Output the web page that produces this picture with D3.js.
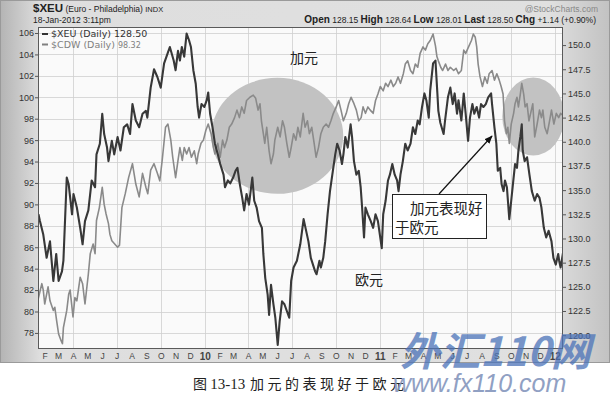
<!DOCTYPE html>
<html><head><meta charset="utf-8">
<script src="https://cdn.jsdelivr.net/npm/d3@7"></script>
<style>body{margin:0;background:#fff}svg{display:block}</style>
</head><body>
<svg id="c" width="610" height="401"></svg>
<script>
// ---- data ----
const xeu = [["2009-01-19",132.5],["2009-01-22",131.8],["2009-01-29",130.4],["2009-02-05",128.0],["2009-02-12",129.7],["2009-02-19",125.6],["2009-02-25",128.4],["2009-03-02",125.6],["2009-03-09",126.6],["2009-03-12",127.7],["2009-03-19",136.3],["2009-03-23",135.6],["2009-03-30",132.5],["2009-04-02",134.6],["2009-04-09",133.2],["2009-04-16",131.1],["2009-04-21",129.4],["2009-04-26",131.8],["2009-05-03",132.9],["2009-05-10",136.0],["2009-05-17",135.3],["2009-05-20",138.7],["2009-05-27",139.8],["2009-06-01",142.9],["2009-06-05",140.8],["2009-06-11",139.4],["2009-06-14",138.0],["2009-06-21",140.1],["2009-06-26",138.7],["2009-07-03",140.5],["2009-07-09",139.1],["2009-07-16",141.5],["2009-07-23",141.8],["2009-07-29",140.8],["2009-08-03",143.9],["2009-08-10",142.2],["2009-08-17",141.5],["2009-08-24",142.9],["2009-08-31",143.2],["2009-09-03",142.5],["2009-09-10",145.6],["2009-09-17",147.5],["2009-09-24",146.7],["2009-10-01",145.6],["2009-10-08",148.1],["2009-10-15",149.1],["2009-10-20",149.8],["2009-10-28",148.4],["2009-11-01",147.4],["2009-11-06",149.4],["2009-11-10",148.4],["2009-11-14",149.8],["2009-11-19",148.8],["2009-11-24",151.2],["2009-11-29",150.5],["2009-12-03",149.8],["2009-12-08",147.4],["2009-12-13",146.0],["2009-12-17",143.6],["2009-12-20",142.5],["2009-12-25",143.9],["2009-12-31",143.6],["2010-01-05",144.3],["2010-01-08",145.1],["2010-01-12",142.9],["2010-01-17",141.5],["2010-01-22",139.8],["2010-01-28",138.7],["2010-02-02",137.7],["2010-02-09",136.6],["2010-02-12",135.3],["2010-02-18",136.0],["2010-02-23",135.7],["2010-03-01",136.3],["2010-03-06",137.0],["2010-03-10",137.3],["2010-03-15",135.6],["2010-03-20",134.2],["2010-03-24",132.9],["2010-03-29",134.6],["2010-04-03",133.5],["2010-04-10",136.3],["2010-04-14",133.9],["2010-04-19",133.2],["2010-04-24",131.8],["2010-04-30",131.1],["2010-05-03",128.4],["2010-05-07",125.9],["2010-05-12",124.2],["2010-05-15",122.1],["2010-05-19",125.2],["2010-05-24",123.2],["2010-05-28",121.8],["2010-06-02",119.0],["2010-06-06",121.4],["2010-06-11",123.5],["2010-06-16",123.2],["2010-06-21",122.5],["2010-06-26",121.8],["2010-06-30",125.6],["2010-07-05",127.0],["2010-07-12",127.7],["2010-07-19",129.4],["2010-07-26",132.0],["2010-08-05",129.7],["2010-08-10",128.0],["2010-08-19",126.6],["2010-08-22",126.3],["2010-08-28",127.7],["2010-08-31",127.0],["2010-09-05",128.0],["2010-09-09",129.7],["2010-09-14",132.5],["2010-09-19",134.9],["2010-09-25",137.0],["2010-09-30",138.7],["2010-10-04",139.8],["2010-10-09",139.1],["2010-10-14",137.7],["2010-10-17",138.7],["2010-10-21",140.5],["2010-10-26",139.4],["2010-11-01",141.8],["2010-11-04",140.5],["2010-11-08",138.0],["2010-11-13",136.6],["2010-11-18",137.0],["2010-11-22",135.3],["2010-11-25",133.2],["2010-11-29",130.1],["2010-12-02",133.2],["2010-12-07",132.5],["2010-12-13",131.8],["2010-12-18",131.1],["2010-12-23",132.5],["2010-12-28",131.8],["2011-01-01",130.4],["2011-01-05",129.0],["2011-01-08",132.5],["2011-01-13",133.9],["2011-01-18",136.0],["2011-01-22",136.6],["2011-01-27",137.7],["2011-02-01",136.6],["2011-02-06",136.0],["2011-02-09",134.9],["2011-02-13",136.6],["2011-02-18",138.0],["2011-02-23",139.8],["2011-02-28",139.1],["2011-03-06",139.8],["2011-03-11",141.5],["2011-03-16",140.8],["2011-03-21",142.2],["2011-03-25",141.8],["2011-03-30",143.6],["2011-04-04",145.0],["2011-04-08",144.3],["2011-04-13",142.5],["2011-04-16",145.3],["2011-04-22",148.1],["2011-04-27",148.4],["2011-05-01",145.0],["2011-05-03",143.2],["2011-05-07",142.0],["2011-05-14",140.8],["2011-05-17",142.2],["2011-05-23",144.6],["2011-05-28",145.6],["2011-06-02",143.9],["2011-06-06",145.0],["2011-06-11",142.9],["2011-06-14",144.3],["2011-06-20",142.2],["2011-06-25",145.0],["2011-06-29",142.9],["2011-07-04",140.1],["2011-07-08",142.5],["2011-07-13",143.9],["2011-07-17",142.9],["2011-07-22",143.6],["2011-07-27",142.5],["2011-07-31",143.9],["2011-08-05",143.6],["2011-08-10",143.9],["2011-08-15",144.6],["2011-08-21",145.0],["2011-08-23",143.9],["2011-08-28",141.5],["2011-09-01",139.8],["2011-09-04",137.0],["2011-09-09",137.3],["2011-09-12",135.6],["2011-09-16",134.9],["2011-09-19",136.0],["2011-09-23",135.3],["2011-09-28",132.0],["2011-10-02",133.9],["2011-10-07",136.3],["2011-10-10",137.7],["2011-10-14",137.3],["2011-10-17",139.1],["2011-10-21",140.5],["2011-10-24",141.8],["2011-10-26",139.1],["2011-10-30",138.0],["2011-11-04",138.4],["2011-11-09",136.6],["2011-11-14",134.9],["2011-11-20",133.9],["2011-11-25",134.6],["2011-11-30",134.2],["2011-12-04",133.2],["2011-12-09",131.1],["2011-12-14",130.1],["2011-12-19",130.8],["2011-12-25",129.7],["2011-12-29",128.0],["2012-01-03",127.3],["2012-01-08",128.4],["2012-01-10",127.7],["2012-01-13",127.0],["2012-01-18",128.5]];

const cdw = [["2009-01-18",81.1],["2009-01-26",82.6],["2009-01-29",82.0],["2009-02-01",80.7],["2009-02-08",82.3],["2009-02-12",81.0],["2009-02-19",80.1],["2009-02-22",80.4],["2009-02-26",79.1],["2009-03-02",77.9],["2009-03-07",77.3],["2009-03-10",77.0],["2009-03-12",78.5],["2009-03-19",80.1],["2009-03-23",81.6],["2009-03-26",82.0],["2009-04-01",79.5],["2009-04-05",81.3],["2009-04-09",81.0],["2009-04-16",83.2],["2009-04-21",82.6],["2009-04-26",80.7],["2009-05-03",83.5],["2009-05-07",85.4],["2009-05-13",86.3],["2009-05-17",85.4],["2009-05-20",88.5],["2009-05-26",89.7],["2009-06-01",91.6],["2009-06-05",90.0],["2009-06-09",89.1],["2009-06-14",88.2],["2009-06-17",87.2],["2009-06-21",86.6],["2009-06-27",86.3],["2009-07-03",86.0],["2009-07-07",86.2],["2009-07-12",89.7],["2009-07-19",91.0],["2009-07-26",92.5],["2009-08-03",93.8],["2009-08-10",91.9],["2009-08-17",90.7],["2009-08-20",91.6],["2009-08-24",92.9],["2009-08-31",91.6],["2009-09-04",91.0],["2009-09-10",93.2],["2009-09-17",93.8],["2009-09-24",92.9],["2009-09-29",92.2],["2009-10-04",94.1],["2009-10-11",97.2],["2009-10-16",97.5],["2009-10-22",96.0],["2009-10-26",94.4],["2009-11-01",92.5],["2009-11-06",94.1],["2009-11-10",95.3],["2009-11-15",94.1],["2009-11-19",95.3],["2009-11-24",94.7],["2009-11-29",95.3],["2009-12-04",94.4],["2009-12-10",95.0],["2009-12-15",93.8],["2009-12-18",94.7],["2009-12-24",95.7],["2009-12-29",96.0],["2010-01-03",96.9],["2010-01-08",97.5],["2010-01-14",96.6],["2010-01-19",95.3],["2010-01-22",94.7],["2010-01-28",95.7],["2010-02-02",94.4],["2010-02-07",96.0],["2010-02-11",95.3],["2010-02-16",96.0],["2010-02-21",97.2],["2010-02-26",97.5],["2010-03-04",98.1],["2010-03-09",98.8],["2010-03-14",98.1],["2010-03-19",99.1],["2010-03-24",98.5],["2010-03-29",99.7],["2010-04-05",100.0],["2010-04-12",100.2],["2010-04-17",99.9],["2010-04-22",98.8],["2010-04-26",99.4],["2010-04-29",97.8],["2010-05-03",96.6],["2010-05-06",95.7],["2010-05-10",97.2],["2010-05-15",95.0],["2010-05-19",93.8],["2010-05-24",94.7],["2010-05-27",96.0],["2010-06-02",97.2],["2010-06-07",96.3],["2010-06-12",97.8],["2010-06-16",97.2],["2010-06-21",95.7],["2010-06-26",94.4],["2010-06-30",95.3],["2010-07-05",96.6],["2010-07-10",96.0],["2010-07-14",97.2],["2010-07-19",96.3],["2010-07-25",98.5],["2010-07-29",97.2],["2010-08-03",97.8],["2010-08-07",96.6],["2010-08-12",97.2],["2010-08-17",95.7],["2010-08-21",94.4],["2010-08-26",95.3],["2010-08-31",96.6],["2010-09-05",97.2],["2010-09-11",97.5],["2010-09-16",97.2],["2010-09-21",97.8],["2010-09-26",98.5],["2010-10-02",99.1],["2010-10-07",99.7],["2010-10-12",98.8],["2010-10-17",97.8],["2010-10-23",98.5],["2010-10-28",99.4],["2010-11-02",100.0],["2010-11-08",99.4],["2010-11-13",98.8],["2010-11-18",97.8],["2010-11-23",98.1],["2010-11-27",99.1],["2010-12-02",98.5],["2010-12-07",99.1],["2010-12-12",98.8],["2010-12-18",98.5],["2010-12-23",99.7],["2010-12-28",100.3],["2011-01-02",101.0],["2011-01-08",100.6],["2011-01-13",101.3],["2011-01-18",101.0],["2011-01-24",101.6],["2011-01-29",101.0],["2011-02-03",101.3],["2011-02-08",101.9],["2011-02-13",101.3],["2011-02-19",102.2],["2011-02-23",103.1],["2011-02-28",103.4],["2011-03-06",102.5],["2011-03-11",102.2],["2011-03-16",103.1],["2011-03-21",102.8],["2011-03-26",104.1],["2011-04-01",104.7],["2011-04-06",104.4],["2011-04-11",105.0],["2011-04-16",105.3],["2011-04-22",105.9],["2011-04-27",104.8],["2011-04-30",103.8],["2011-05-03",103.4],["2011-05-08",102.8],["2011-05-12",102.5],["2011-05-18",103.1],["2011-05-23",102.5],["2011-05-28",102.8],["2011-06-04",102.5],["2011-06-09",102.7],["2011-06-14",102.2],["2011-06-20",102.5],["2011-06-25",104.4],["2011-06-29",104.1],["2011-07-05",104.7],["2011-07-11",105.3],["2011-07-15",105.9],["2011-07-19",105.6],["2011-07-22",104.7],["2011-07-25",103.1],["2011-07-29",101.9],["2011-08-03",101.0],["2011-08-08",101.9],["2011-08-13",101.3],["2011-08-17",102.2],["2011-08-23",102.5],["2011-08-28",101.6],["2011-09-02",102.2],["2011-09-07",101.6],["2011-09-11",101.0],["2011-09-15",100.3],["2011-09-18",97.8],["2011-09-22",96.6],["2011-09-25",97.2],["2011-09-28",95.7],["2011-10-02",97.5],["2011-10-07",98.5],["2011-10-10",99.4],["2011-10-14",100.0],["2011-10-17",99.1],["2011-10-21",100.3],["2011-10-24",101.3],["2011-10-28",100.3],["2011-10-31",99.1],["2011-11-04",99.4],["2011-11-08",97.8],["2011-11-13",98.8],["2011-11-16",99.4],["2011-11-20",96.3],["2011-11-25",97.5],["2011-11-30",98.8],["2011-12-04",98.1],["2011-12-07",98.8],["2011-12-11",97.2],["2011-12-16",96.6],["2011-12-21",97.8],["2011-12-25",98.8],["2011-12-30",97.5],["2012-01-04",98.5],["2012-01-09",98.1],["2012-01-13",98.5],["2012-01-18",98.3]];

const leftTicks = [78,80,82,84,86,88,90,92,94,96,98,100,102,104,106];
const rightTicks = [120.0,122.5,125.0,127.5,130.0,132.5,135.0,137.5,140.0,142.5,145.0,147.5,150.0];
const monthLetters = ["J","F","M","A","M","J","J","A","S","O","N","D"];
const dateRange = ["2009-01-18","2012-01-18"];
const leftDomain = [76.5,106.56];
const rightDomain = [118.57,151.87];
// highlighted regions (centre date, centre value on left axis)
const highlights = [{d:"2010-06-01",v:96.4,rx:66,ry:58},{d:"2011-11-17",v:98.2,rx:31,ry:39}];

// ---- layout ----
const svg = d3.select("#c");
const P = {l:38, r:563, t:27, b:349};
const parse = d3.utcParse("%Y-%m-%d");
const x = d3.scaleUtc().domain(dateRange.map(parse)).range([P.l,P.r]);
const yL = d3.scaleLinear().domain(leftDomain).range([P.b,P.t]);
const yR = d3.scaleLinear().domain(rightDomain).range([P.b,P.t]);

const defs = svg.append("defs");
const g1 = defs.append("linearGradient").attr("id","frame");
[[0,"#b4b4b4"],[0.065,"#dedede"],[0.9,"#e0e0e0"],[1,"#c2c2c2"]].forEach(s=>g1.append("stop").attr("offset",s[0]).attr("stop-color",s[1]));
defs.append("clipPath").attr("id","clip").append("rect").attr("x",P.l).attr("y",P.t).attr("width",P.r-P.l).attr("height",P.b-P.t);
defs.append("marker").attr("id","arr").attr("viewBox","0 0 10 10").attr("refX",9).attr("refY",5)
  .attr("markerWidth",7).attr("markerHeight",7).attr("orient","auto")
  .append("path").attr("d","M0,1 L10,5 L0,9 Z").attr("fill","#111");

svg.append("rect").attr("x",0.5).attr("y",0.5).attr("width",609).attr("height",362).attr("fill","url(#frame)").attr("stroke","#9a9a9a");
svg.append("rect").attr("x",P.l).attr("y",P.t).attr("width",P.r-P.l).attr("height",P.b-P.t).attr("fill","#fafafa");

// grid
const grid = svg.append("g").attr("stroke","#cfcfcf").attr("stroke-width",0.8);
grid.selectAll("line.h").data(leftTicks).join("line").attr("class","h")
  .attr("x1",P.l).attr("x2",P.r).attr("y1",d=>Math.round(yL(d))+0.5).attr("y2",d=>Math.round(yL(d))+0.5);
const quarters = d3.utcMonth.range(x.domain()[0], x.domain()[1]).filter(d=>d.getUTCMonth()%3===0);
grid.selectAll("line.v").data(quarters).join("line").attr("class","v")
  .attr("y1",P.t).attr("y2",P.b).attr("x1",d=>Math.round(x(d))+0.5).attr("x2",d=>Math.round(x(d))+0.5);

// ellipses
svg.append("g").selectAll("ellipse").data(highlights).join("ellipse")
  .attr("cx",d=>x(parse(d.d))).attr("cy",d=>yL(d.v)).attr("rx",d=>d.rx).attr("ry",d=>d.ry)
  .attr("fill","#c2c2c2").attr("clip-path","url(#clip)");

// lines
const lineR = d3.line().x(d=>x(parse(d[0]))).y(d=>yR(d[1]));
const lineL = d3.line().x(d=>x(parse(d[0]))).y(d=>yL(d[1]));
const lg = svg.append("g").attr("clip-path","url(#clip)").attr("fill","none").attr("stroke-linejoin","round");
lg.append("path").datum(cdw).attr("d",lineL).attr("stroke","#8a8a8a").attr("stroke-width",1.6);
lg.append("path").datum(xeu).attr("d",lineR).attr("stroke","#383838").attr("stroke-width",2.1);

svg.append("rect").attr("x",P.l+0.5).attr("y",P.t+0.5).attr("width",P.r-P.l-1).attr("height",P.b-P.t-1).attr("fill","none").attr("stroke","#5a5a5a");

// axes
const axL = svg.append("g").attr("transform",`translate(${P.l},0)`)
  .call(d3.axisLeft(yL).tickValues(leftTicks).tickSize(3).tickPadding(1).tickFormat(d3.format("d")));
const axR = svg.append("g").attr("transform",`translate(${P.r},0)`)
  .call(d3.axisRight(yR).tickValues(rightTicks).tickSize(3).tickPadding(2).tickFormat(d3.format(".1f")));
const months = d3.utcMonth.range(d3.utcMonth.ceil(x.domain()[0]), x.domain()[1]);
const axB = svg.append("g").attr("transform",`translate(0,${P.b})`)
  .call(d3.axisBottom(x).tickValues(months).tickSize(0).tickPadding(4)
    .tickFormat(d=>d.getUTCMonth()===0 ? String(d.getUTCFullYear()).slice(2) : monthLetters[d.getUTCMonth()]));
[axL,axR,axB].forEach(a=>{a.select(".domain").remove();
  a.selectAll("text").attr("font-family","Liberation Sans, Arial, sans-serif").attr("font-size",9).attr("fill","#333");
  a.selectAll("line").attr("stroke","#555");});
axB.selectAll("text").attr("fill","#444")
  .attr("font-weight",d=>d.getUTCMonth()===0?"bold":"normal").attr("font-size",d=>d.getUTCMonth()===0?10:8.5);

// header
const hf = "Liberation Sans, Arial, sans-serif";
const h1 = svg.append("text").attr("x",33).attr("y",12).attr("font-family",hf).attr("fill","#222");
h1.append("tspan").text("$XEU").attr("font-weight","bold").attr("font-size",11.5);
h1.append("tspan").text(" (Euro - Philadelphia) ").attr("font-size",8.5);
h1.append("tspan").text("INDX").attr("font-size",7.5);
svg.append("text").attr("x",598).attr("y",12).attr("text-anchor","end").attr("font-family",hf)
  .attr("font-size",8.5).attr("fill","#888").text("@StockCharts.com");
svg.append("text").attr("x",33).attr("y",23).attr("font-family",hf).attr("font-size",8.5).attr("fill","#222").text("18-Jan-2012 3:11pm");
const h2 = svg.append("text").attr("x",596).attr("y",23).attr("text-anchor","end").attr("font-family",hf).attr("fill","#222");
[["Open",1],[" 128.15 ",0],["High",1],[" 128.64 ",0],["Low",1],[" 128.01 ",0],["Last",1],[" 128.50 ",0],["Chg",1],[" +1.14 (+0.90%)",0]]
  .forEach(t=>h2.append("tspan").text(t[0]).attr("font-weight",t[1]?"bold":"normal").attr("font-size",t[1]?10:8.5));

// legend
const lf = "DejaVu Sans, Verdana, sans-serif";
const leg = [{y:34,c:"#333",name:"$XEU (Daily) ",val:"128.50",vs:9.5},{y:44.5,c:"#808080",name:"$CDW (Daily) ",val:"98.32",vs:8}];
leg.forEach(l=>{
  svg.append("line").attr("x1",42).attr("x2",48).attr("y1",l.y).attr("y2",l.y).attr("stroke",l.c).attr("stroke-width",2);
  const t = svg.append("text").attr("x",51).attr("y",l.y+3.3).attr("font-family",lf).attr("font-size",9.5).attr("fill",l.c);
  t.append("tspan").text(l.name);
  t.append("tspan").text(l.val).attr("font-size",l.vs);
});

// annotations
const cf = "Noto Sans CJK SC, sans-serif";
svg.append("text").attr("x",290).attr("y",63).attr("font-family",cf).attr("font-size",14).attr("fill","#222").text("加元");
svg.append("text").attr("x",355).attr("y",285).attr("font-family",cf).attr("font-size",14).attr("fill","#222").text("欧元");
svg.append("rect").attr("x",392.5).attr("y",194.5).attr("width",94).attr("height",44).attr("fill","#fff").attr("stroke","#222");
svg.append("text").attr("x",410).attr("y",214).attr("font-family",cf).attr("font-size",14.5).attr("fill","#222").text("加元表现好");
svg.append("text").attr("x",395).attr("y",233).attr("font-family",cf).attr("font-size",14.5).attr("fill","#222").text("于欧元");
svg.append("line").attr("x1",439).attr("y1",194).attr("x2",492).attr("y2",136).attr("stroke","#111").attr("stroke-width",1.2).attr("marker-end","url(#arr)");

// caption
const cap = svg.append("text").attr("x",193).attr("y",389).attr("font-family",cf).attr("font-size",14).attr("fill","#222");
cap.append("tspan").text("图 ");
cap.append("tspan").text("13-13").attr("font-family","Liberation Serif, serif").attr("font-size",15);
cap.append("tspan").attr("x",250).text("加元的表现好于欧元").attr("letter-spacing",3.5);

// watermark
svg.append("text").attr("x",400).attr("y",366).attr("font-family",cf).attr("font-weight","bold").attr("font-style","italic")
  .attr("font-size",40).attr("fill","#4b72b8").attr("opacity",0.75).text("外汇110网");
svg.append("text").attr("x",393).attr("y",392).attr("font-family","Liberation Sans, Arial, sans-serif").attr("font-style","italic")
  .attr("font-size",25).attr("fill","#8596bd").attr("opacity",0.9).text("www.fx110.com");
</script>
</body></html>
